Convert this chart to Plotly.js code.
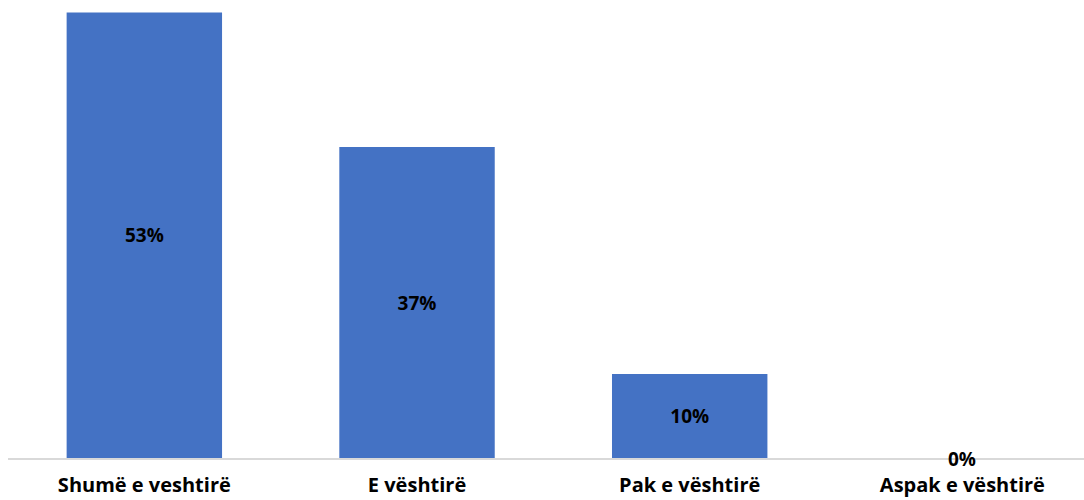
<!DOCTYPE html>
<html>
<head>
<meta charset="utf-8">
<script src="https://cdn.plot.ly/plotly-3.0.1.min.js"></script>
<style>html,body{margin:0;padding:0;background:#fff;}#chart{width:1084px;height:500px;}</style>
</head>
<body>
<div id="chart"></div>
<script>
const categories = ["Shumë e veshtirë", "E vështirë", "Pak e vështirë", "Aspak e vështirë"];
const values = [53, 37, 10, 0];
const valueLabels = ["53%", "37%", "10%", "0%"];

const FONT = "'Open Sans', Lato, 'Liberation Sans', sans-serif";

const trace = {
  type: "bar",
  x: categories,
  y: values,
  text: valueLabels,
  textposition: values.map(v => v > 0 ? "inside" : "none"),
  insidetextanchor: "middle",
  textfont: {family: FONT, size: 19, color: "#000000", weight: "bold"},
  insidetextfont: {family: FONT, size: 19, color: "#000000", weight: "bold"},
  marker: {color: "#4472C4"},
  width: 0.57,
  hoverinfo: "skip",
  cliponaxis: false
};

const zeroAnnotations = categories.map((c, i) => values[i] === 0 ? {
  x: c, y: values[i], xref: "x", yref: "y",
  text: valueLabels[i], showarrow: false, yanchor: "middle", yshift: -1,
  font: {family: FONT, size: 19, color: "#000000", weight: "bold"}
} : null).filter(a => a);

const layout = {
  width: 1084, height: 500,
  margin: {l: 8, r: 0, t: 0, b: 42},
  paper_bgcolor: "#ffffff", plot_bgcolor: "#ffffff",
  showlegend: false,
  xaxis: {
    type: "category",
    range: [-0.5, 3.446],
    showline: true, linecolor: "#d9d9d9", linewidth: 2,
    showgrid: false, zeroline: false, ticks: "",
    ticklabelstandoff: 8,
    tickfont: {family: FONT, size: 20, color: "#000000", weight: "bold"},
    fixedrange: true
  },
  yaxis: {
    range: [0, 54.5],
    visible: false,
    showgrid: false, zeroline: false,
    fixedrange: true
  },
  annotations: zeroAnnotations
};

Plotly.newPlot("chart", [trace], layout, {displayModeBar: false, staticPlot: true});
</script>
</body>
</html>
